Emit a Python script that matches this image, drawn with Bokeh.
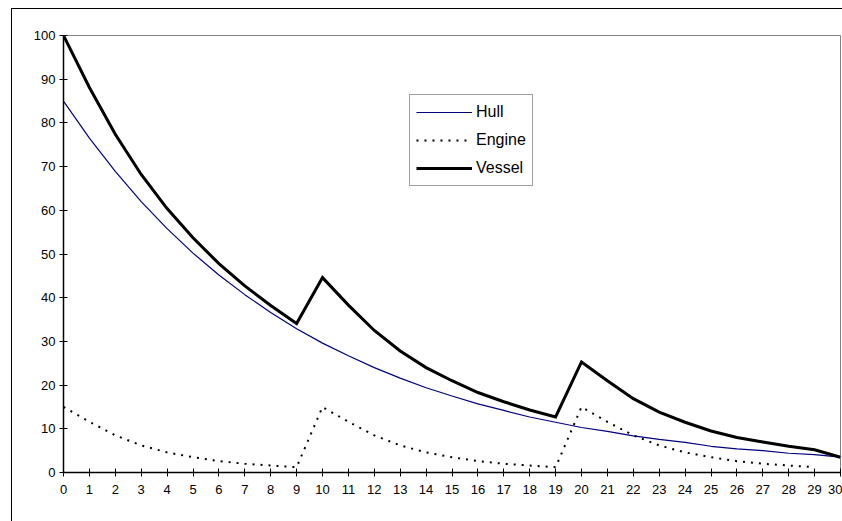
from bokeh.plotting import figure
from bokeh.models import Range1d, FixedTicker, Legend, LegendItem, InlineStyleSheet
from bokeh.embed import file_html
from bokeh.resources import INLINE

years = list(range(0, 31))
hull = [85, 76.5, 68.9, 62.0, 55.8, 50.2, 45.2, 40.7, 36.6, 32.9,
        29.6, 26.7, 24.0, 21.6, 19.4, 17.5, 15.7, 14.2, 12.7, 11.5,
        10.3, 9.4, 8.4, 7.6, 6.9, 6.0, 5.4, 5.0, 4.4, 4.1, 3.5]
engine = [15, 11.6, 8.5, 6.2, 4.6, 3.5, 2.6, 2.0, 1.6, 1.2,
          15, 11.6, 8.5, 6.2, 4.6, 3.5, 2.6, 2.0, 1.6, 1.2,
          15, 11.6, 8.5, 6.2, 4.6, 3.5, 2.6, 2.0, 1.6, 1.2]
vessel = [100, 88.1, 77.4, 68.2, 60.4, 53.7, 47.8, 42.7, 38.2, 34.1,
          44.6, 38.3, 32.5, 27.8, 24.0, 21.0, 18.3, 16.2, 14.3, 12.7,
          25.3, 21.0, 16.9, 13.8, 11.5, 9.5, 8.0, 7.0, 6.0, 5.2, 3.5]
x_ticks = list(range(0, 31))
y_ticks = [0, 10, 20, 30, 40, 50, 60, 70, 80, 90, 100]

FONT = "Liberation Sans"

# outer chart-area border: only its top and left edges are visible in the source
border_css = InlineStyleSheet(css="""
:host { position: relative; }
:host::before {
  content: ''; position: absolute; left: 11px; top: 8px; width: 831px; height: 0;
  border-top: 1.5px solid black; pointer-events: none; z-index: 10;
}
:host::after {
  content: ''; position: absolute; left: 11px; top: 8px; width: 0; height: 513px;
  border-left: 1.5px solid black; pointer-events: none; z-index: 10;
}
""")

p = figure(width=842, height=521, output_backend="svg", toolbar_location=None,
           x_range=Range1d(0, 30), y_range=Range1d(0, 100),
           min_border_left=63, min_border_right=2, min_border_top=35, min_border_bottom=49,
           stylesheets=[border_css])
p.background_fill_color = "white"
p.border_fill_color = "white"
p.outline_line_color = "#808080"
p.outline_line_width = 1
p.xgrid.visible = False
p.ygrid.visible = False

for ax in (p.xaxis[0], p.yaxis[0]):
    ax.axis_line_color = "black"
    ax.axis_line_width = 1.5
    ax.major_tick_line_color = "black"
    ax.major_tick_line_width = 1
    ax.major_tick_in = 4
    ax.major_tick_out = 4
    ax.minor_tick_line_color = None
    ax.major_label_text_font = FONT
    ax.major_label_text_font_size = "13px"
    ax.major_label_text_color = "black"
p.xaxis[0].ticker = FixedTicker(ticks=x_ticks)
p.yaxis[0].ticker = FixedTicker(ticks=y_ticks)
p.xaxis[0].major_label_standoff = 8
p.yaxis[0].major_label_standoff = 4

r_hull = p.line(years, hull, line_color="#000080", line_width=1.2)
r_eng = p.line(years[:30], engine, line_color="black", line_width=2, line_dash="2 6")
r_ves = p.line(years, vessel, line_color="black", line_width=3, line_join="miter")

legend = Legend(items=[LegendItem(label="Hull", renderers=[r_hull]),
                       LegendItem(label="Engine", renderers=[r_eng]),
                       LegendItem(label="Vessel", renderers=[r_ves])],
                location=(346, 286))
legend.label_text_font = FONT
legend.label_text_font_size = "16px"
legend.label_text_color = "black"
legend.glyph_width = 56
legend.glyph_height = 22
legend.label_standoff = 4
legend.spacing = 6
legend.padding = 6
legend.margin = 0
legend.border_line_color = "#404040"
legend.border_line_width = 1
legend.background_fill_alpha = 1
p.add_layout(legend, "center")

open("out.html", "w").write(file_html(p, INLINE))
